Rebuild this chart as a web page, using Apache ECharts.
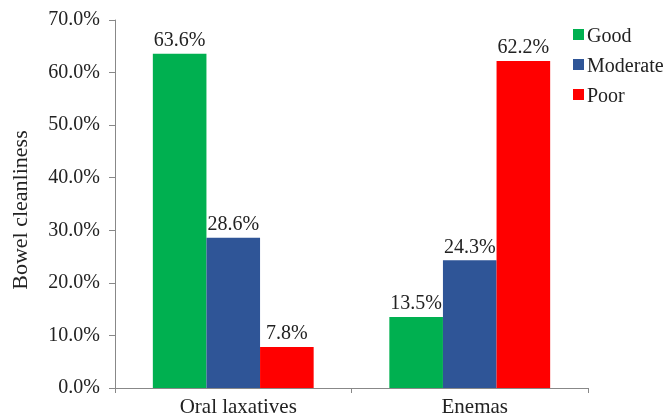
<!DOCTYPE html>
<html><head><meta charset="utf-8">
<script src="https://cdn.jsdelivr.net/npm/echarts@6/dist/echarts.min.js"></script>
<style>html,body{margin:0;padding:0;background:#fff}#c{width:670px;height:420px}</style>
</head><body><div id="c"></div>
<script>
var categories = ['Oral laxatives', 'Enemas'];
var seriesNames = ['Good', 'Moderate', 'Poor'];
var good = [63.6, 13.5];
var moderate = [28.6, 24.3];
var poor = [7.8, 62.2];
var colors = ['#00b050', '#2f5597', '#ff0000'];
var font = 'Liberation Serif';
var chart = echarts.init(document.getElementById('c'));
var vals = [good, moderate, poor];
var legendText = seriesNames.map(function (n, i) {
  return {
    type: 'text', x: 587, y: 37 + i * 30,
    style: {text: n, fontFamily: font, fontSize: 20, fill: '#222', align: 'left', verticalAlign: 'middle'}
  };
});
chart.setOption({
  animation: false,
  textStyle: {fontFamily: font},
  grid: {left: 115, right: 82, top: 20, bottom: 32, containLabel: false},
  legend: {
    orient: 'vertical', left: 573, top: 29, padding: 0, itemWidth: 11, itemHeight: 11, itemGap: 19,
    icon: 'rect',
    formatter: function () { return ''; },
    data: seriesNames
  },
  graphic: [{
    type: 'text', rotation: Math.PI / 2,
    x: 21, y: 210,
    style: {text: 'Bowel cleanliness', fontFamily: font, fontSize: 22, fill: '#222', align: 'center', verticalAlign: 'middle'}
  }].concat(legendText),
  xAxis: {
    type: 'category', data: categories,
    axisLine: {lineStyle: {color: '#888'}},
    axisTick: {show: true, length: 5, lineStyle: {color: '#888'}},
    axisLabel: {fontFamily: font, fontSize: 21, color: '#222', margin: 9, padding: [0, 0, 0, 10]}
  },
  yAxis: {
    type: 'value', min: 0, max: 70, interval: 10,
    axisLine: {show: true, lineStyle: {color: '#888'}},
    axisTick: {show: true, length: 6, lineStyle: {color: '#888'}},
    splitLine: {show: false},
    axisLabel: {fontFamily: font, fontSize: 20, color: '#222', margin: 15,
      formatter: function (v) { return v.toFixed(1) + '%'; }}
  },
  series: seriesNames.map(function (n, i) {
    return {
      name: n, type: 'bar', data: vals[i], barGap: '0%', barCategoryGap: '32%',
      itemStyle: {color: colors[i]},
      label: {show: true, position: 'top', distance: 3, fontFamily: font, fontSize: 20, color: '#222',
        formatter: function (p) { return p.value.toFixed(1) + '%'; }}
    };
  })
});
</script></body></html>
